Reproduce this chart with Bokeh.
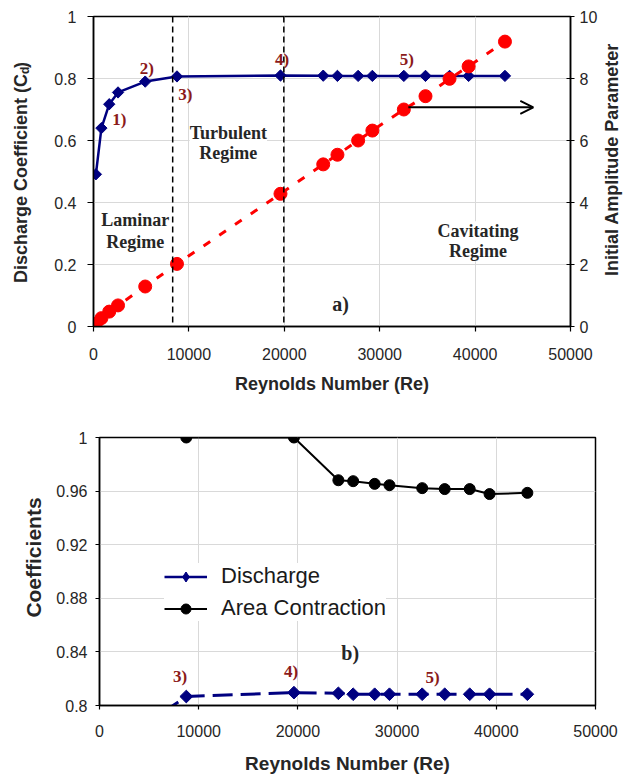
from math import pi
from bokeh.plotting import figure
from bokeh.models import (Range1d, LinearAxis, FixedTicker, Span, Label, Arrow,
                          OpenHead, Legend, LegendItem, ColumnDataSource,
                          CustomJSTickFormatter)
from bokeh.layouts import column, row
from bokeh.embed import file_html
from bokeh.resources import INLINE

# ---------------- data ----------------
reynolds = [250, 830, 1650, 2570, 5420, 8750, 19600, 24080, 25570, 27740,
            29230, 32530, 34800, 37320, 39320, 43130]
discharge = [0.491, 0.640, 0.717, 0.755, 0.790, 0.8067, 0.8096, 0.8091,
             0.8084, 0.8084, 0.8084, 0.8084, 0.8084, 0.8084, 0.8084, 0.8084]
amplitude = [0.09, 0.27, 0.48, 0.68, 1.29, 2.02, 4.28, 5.23, 5.54, 6.00,
             6.32, 7.00, 7.43, 7.99, 8.39, 9.19]
reynolds_area = [8750, 19600, 24080, 25570, 27740, 29230, 32530, 34800,
                 37320, 39320, 43130]
area_contraction = [1.0, 1.0, 0.9681, 0.9674, 0.9654, 0.9644, 0.9622,
                    0.9615, 0.9615, 0.9578, 0.9587]
regime_bounds = [8300, 19950]
x_ticks = [0, 10000, 20000, 30000, 40000, 50000]
cd_ticks = [0, 0.2, 0.4, 0.6, 0.8, 1.0]
amp_ticks = [0, 2, 4, 6, 8, 10]
coef_ticks = [0.8, 0.84, 0.88, 0.92, 0.96, 1.0]

point_tags = ["1)", "2)", "3)", "4)", "5)"]
tag_x_top = [2708, 5594, 9615, 19760, 32844]
tag_y_top = [0.667, 0.832, 0.747, 0.862, 0.862]
tag_text_bot = ["3)", "4)", "5)"]
tag_x_bot = [8135, 19325, 33569]
tag_y_bot = [0.8215, 0.8252, 0.8212]

SANS = "Liberation Sans"
SERIF = "Liberation Serif"
NAVY = "#000080"
RED = "#FF0000"
TAGRED = "#8B1A1A"
TXT = "#262626"
GRID = "#D9D9D9"

fmt = CustomJSTickFormatter(code="return String(Math.round(tick*100)/100)")


def style_axis(ax, ticks, tick_out=5, tick_in=0, size="16px"):
    ax.ticker = FixedTicker(ticks=ticks)
    ax.axis_line_color = "black"
    ax.axis_line_width = 1.5
    ax.major_tick_line_color = "black"
    ax.major_tick_line_width = 1.2
    ax.major_tick_out = tick_out
    ax.major_tick_in = tick_in
    ax.minor_tick_line_color = None
    ax.major_label_text_font = SANS
    ax.major_label_text_font_size = size
    ax.major_label_text_color = TXT
    ax.formatter = fmt


def add_text(p, x, y, text, size, color=TXT, font=SERIF, style="bold",
             angle=0.0, align="center", baseline="middle", bg=None):
    lab = Label(x=x, y=y, text=text, text_font=font, text_font_style=style,
                text_font_size=size, text_color=color, angle=angle,
                text_align=align, text_baseline=baseline)
    if bg:
        lab.background_fill_color = bg
        lab.background_fill_alpha = 1.0
    p.add_layout(lab)


def label_fig(w, h):
    f = figure(width=w, height=h, x_range=Range1d(0, w), y_range=Range1d(0, h),
               output_backend="svg", toolbar_location=None,
               x_axis_location=None, y_axis_location=None,
               min_border=0, min_border_left=0, min_border_right=0,
               min_border_top=0, min_border_bottom=0)
    f.outline_line_color = None
    f.grid.visible = False
    f.background_fill_color = "white"
    f.border_fill_color = "white"
    return f


# ---------------- top chart ----------------
p1 = figure(width=560, height=400, x_range=Range1d(0, 50000),
            y_range=Range1d(0, 1), output_backend="svg", toolbar_location=None,
            min_border_left=53, min_border_right=27, min_border_top=16,
            min_border_bottom=74)
p1.extra_y_ranges = {"amp": Range1d(0, 10)}
p1.outline_line_color = "black"
p1.outline_line_width = 1.5
p1.background_fill_color = "white"
p1.border_fill_color = "white"

style_axis(p1.xaxis[0], x_ticks, tick_out=5)
style_axis(p1.yaxis[0], cd_ticks, tick_out=6)
p1.xaxis[0].major_label_standoff = 16
p1.yaxis[0].major_label_standoff = 11
p1.xaxis[0].axis_label = "Reynolds Number (Re)"
p1.xaxis[0].axis_label_text_font = SANS
p1.xaxis[0].axis_label_text_font_style = "bold"
p1.xaxis[0].axis_label_text_font_size = "18px"
p1.xaxis[0].axis_label_text_color = TXT
p1.xaxis[0].axis_label_standoff = 11

ax_r = LinearAxis(y_range_name="amp")
style_axis(ax_r, amp_ticks, tick_out=4, tick_in=4)
ax_r.major_label_standoff = 5
p1.add_layout(ax_r, "right")

p1.xgrid.ticker = FixedTicker(ticks=x_ticks)
p1.ygrid.ticker = FixedTicker(ticks=cd_ticks)
for g in (p1.xgrid[0], p1.ygrid[0]):
    g.grid_line_color = GRID
    g.grid_line_width = 1

for xb in regime_bounds:
    p1.add_layout(Span(location=xb, dimension="height", line_color="black",
                       line_width=1.5, line_dash="6 4"))

# region texts
add_text(p1, 14135, 0.6235, "Turbulent", "18px", bg="white")
add_text(p1, 14135, 0.559, "Regime", "18px", bg="white")
add_text(p1, 4375, 0.344, "Laminar", "18px")
add_text(p1, 4375, 0.272, "Regime", "18px")
add_text(p1, 40313, 0.3074, "Cavitating", "18px", bg="white")
add_text(p1, 40313, 0.2429, "Regime", "18px", bg="white")
add_text(p1, 25906, 0.0732, "a)", "20px")

src_top = ColumnDataSource(dict(x=reynolds, cd=discharge, amp=amplitude))
p1.line("x", "cd", source=src_top, line_color=NAVY, line_width=2.5)
p1.scatter("x", "cd", source=src_top, marker="square", angle=pi / 4, size=8,
           fill_color=NAVY, line_color=NAVY)
p1.line("x", "amp", source=src_top, y_range_name="amp", line_color=RED,
        line_width=3, line_dash="8 11")
p1.scatter("x", "amp", source=src_top, y_range_name="amp", marker="circle",
           size=13, fill_color=RED, line_color=RED)

p1.add_layout(Arrow(x_start=33000, y_start=7.07, x_end=46100, y_end=7.07,
                    y_range_name="amp", line_color="black", line_width=2,
                    end=OpenHead(size=13, line_color="black", line_width=2)))

for t, x, y in zip(point_tags, tag_x_top, tag_y_top):
    add_text(p1, x, y, t, "17px", color=TAGRED)

# left title strip (with subscript) and right title strip
fl1 = label_fig(40, 400)
add_text(fl1, 20, 325.85, "Discharge Coefficient (C", "18px", font=SANS,
         angle=pi / 2, align="right", baseline="middle")
add_text(fl1, 24.5, 325.85, "d", "12px", font=SANS, angle=pi / 2,
         align="left", baseline="middle")
add_text(fl1, 20, 333.45, ")", "18px", font=SANS, angle=pi / 2,
         align="left", baseline="middle")

fr1 = label_fig(28, 400)
add_text(fr1, 11, 215.5, "Initial Amplitude Parameter", "18px", font=SANS,
         angle=pi / 2, align="center", baseline="middle")

# ---------------- bottom chart ----------------
p2 = figure(width=578, height=376, x_range=Range1d(0, 50000),
            y_range=Range1d(0.8, 1.0), output_backend="svg",
            toolbar_location=None, min_border_left=49, min_border_right=33,
            min_border_top=37, min_border_bottom=70)
p2.outline_line_color = "black"
p2.outline_line_width = 1.5
p2.background_fill_color = "white"
p2.border_fill_color = "white"

style_axis(p2.xaxis[0], x_ticks, tick_out=4)
style_axis(p2.yaxis[0], coef_ticks, tick_out=4)
p2.xaxis[0].major_label_standoff = 15
p2.yaxis[0].major_label_standoff = 8
p2.xaxis[0].axis_label = "Reynolds Number (Re)"
p2.xaxis[0].axis_label_text_font = SANS
p2.xaxis[0].axis_label_text_font_style = "bold"
p2.xaxis[0].axis_label_text_font_size = "19px"
p2.xaxis[0].axis_label_text_color = TXT
p2.xaxis[0].axis_label_standoff = 13

p2.xgrid.ticker = FixedTicker(ticks=x_ticks)
p2.ygrid.ticker = FixedTicker(ticks=coef_ticks)
for g in (p2.xgrid[0], p2.ygrid[0]):
    g.grid_line_color = GRID
    g.grid_line_width = 1

src_bd = ColumnDataSource(dict(x=reynolds, cd=discharge))
src_ba = ColumnDataSource(dict(x=reynolds_area, ac=area_contraction))
p2.line("x", "ac", source=src_ba, line_color="black", line_width=2)
p2.scatter("x", "ac", source=src_ba, marker="circle", size=11,
           fill_color="black", line_color="black")
p2.line("x", "cd", source=src_bd, line_color=NAVY, line_width=3,
        line_dash="20 8")
p2.scatter("x", "cd", source=src_bd, marker="square", angle=pi / 4, size=9,
           fill_color=NAVY, line_color=NAVY)

for t, x, y in zip(tag_text_bot, tag_x_bot, tag_y_bot):
    add_text(p2, x, y, t, "17px", color=TAGRED)
add_text(p2, 25272, 0.8393, "b)", "20px", bg="white")

# legend (proxy renderers placed outside the visible range)
proxy = ColumnDataSource(dict(x=[-1e6, -9e5], y=[0.5, 0.5]))
lg1 = p2.line("x", "y", source=proxy, line_color=NAVY, line_width=2.5)
mk1 = p2.scatter("x", "y", source=proxy, marker="diamond", size=18,
                 fill_color=NAVY, line_color=NAVY)
lg2 = p2.line("x", "y", source=proxy, line_color="black", line_width=2)
mk2 = p2.scatter("x", "y", source=proxy, marker="circle", size=11,
                 fill_color="black", line_color="black")
legend = Legend(items=[LegendItem(label="Discharge", renderers=[lg1, mk1]),
                       LegendItem(label="Area Contraction", renderers=[lg2, mk2])],
                location=(65, 84), padding=8, spacing=6, margin=0,
                glyph_width=43, glyph_height=25, label_height=25,
                label_standoff=14, label_text_font=SANS,
                label_text_font_size="22px", label_text_color="#1a1a1a",
                background_fill_color="white", background_fill_alpha=1.0,
                border_line_color=None)
p2.add_layout(legend)

fl2 = label_fig(50, 376)
add_text(fl2, 33, 207.6, "Coefficients", "21px", font=SANS, angle=pi / 2,
         align="center", baseline="middle")

layout = column(row(fl1, p1, fr1), row(fl2, p2))
open("out.html", "w").write(file_html(layout, INLINE))
